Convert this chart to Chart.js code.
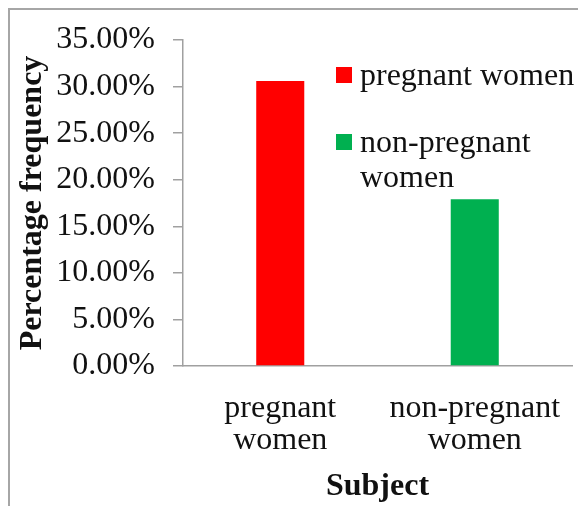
<!DOCTYPE html>
<html><head><meta charset="utf-8">
<script src="https://cdn.jsdelivr.net/npm/chart.js@4"></script>
<style>html,body{margin:0;padding:0;background:#fff}#wrap{width:578px;height:506px;position:relative}</style>
</head><body><div id="wrap"><canvas id="c"></canvas></div>
<script>
const categories = [['pregnant','women'], ['non-pregnant','women']];
const seriesNames = ['pregnant women', 'non-pregnant women'];
const values = [0.306, 0.179];
const barColors = ['#ff0000', '#00b050'];
const yMin = 0, yMax = 0.35, yStep = 0.05;
const yTitle = 'Percentage frequency';
const xTitle = 'Subject';

const SERIF = '"Liberation Serif","Times New Roman",serif';
const AXIS = '#a0a0a0';
const FS = 32;

const framePlugin = {
  id: 'frame',
  beforeDraw(chart) {
    const ctx = chart.ctx;
    ctx.save();
    ctx.fillStyle = '#fff';
    ctx.fillRect(0, 0, chart.width, chart.height);
    ctx.strokeStyle = '#a6a6a6';
    ctx.lineWidth = 2;
    ctx.strokeRect(9, 9, chart.width + 20, chart.height + 20);
    ctx.restore();
  }
};

function wrapText(ctx, text, maxW) {
  const words = text.split(' ');
  const lines = [];
  let cur = '';
  words.forEach(w => {
    const t = cur ? cur + ' ' + w : w;
    if (cur && ctx.measureText(t).width > maxW) { lines.push(cur); cur = w; }
    else cur = t;
  });
  if (cur) lines.push(cur);
  return lines;
}

const legendPlugin = {
  id: 'sideLegend',
  afterDraw(chart, args, o) {
    const ctx = chart.ctx;
    ctx.save();
    ctx.font = FS + 'px ' + SERIF;
    ctx.textBaseline = 'alphabetic';
    ctx.textAlign = 'left';
    let y = o.top;
    seriesNames.forEach((name, i) => {
      const lines = wrapText(ctx, name, o.maxWidth);
      ctx.fillStyle = barColors[i];
      ctx.fillRect(o.x, y - 18, 16, 16);
      ctx.fillStyle = '#111';
      lines.forEach((ln, j) => ctx.fillText(ln, o.x + 24, y + j * o.lineH));
      y += lines.length * o.lineH + o.gap;
    });
    ctx.restore();
  }
};

new Chart(document.getElementById('c'), {
  type: 'bar',
  data: {
    labels: categories,
    datasets: [{
      label: 'Percentage frequency',
      data: values,
      backgroundColor: barColors,
      borderWidth: 0,
      categoryPercentage: 1,
      barPercentage: 0.247
    }]
  },
  options: {
    responsive: true,
    maintainAspectRatio: false,
    animation: false,
    layout: { padding: { left: 0, right: 6, top: 40, bottom: 0 } },
    plugins: {
      legend: { display: false },
      tooltip: { enabled: false },
      sideLegend: { x: 336, top: 85, lineH: 35, gap: 32, maxWidth: 216 }
    },
    scales: {
      x: {
        grid: { display: true, drawOnChartArea: false, drawTicks: true, tickLength: 26, color: 'rgba(0,0,0,0)' },
        border: { display: true, color: AXIS, width: 1.5 },
        ticks: { color: '#111', font: { family: SERIF, size: FS, lineHeight: 1.02 }, padding: 0, maxRotation: 0, autoSkip: false },
        title: { display: true, text: xTitle, color: '#111', font: { family: SERIF, size: FS, weight: 'bold', lineHeight: 1.2 }, padding: { top: 0, bottom: 0 } },
        afterFit(s) { s.height = 140; }
      },
      y: {
        min: yMin, max: yMax,
        grid: { drawOnChartArea: false, drawTicks: true, tickLength: 10, color: AXIS, lineWidth: 1.5 },
        border: { display: true, color: AXIS, width: 1.5 },
        ticks: { stepSize: yStep, color: '#111', font: { family: SERIF, size: FS }, padding: 18,
          callback: v => (v * 100).toFixed(2) + '%' },
        title: { display: true, text: yTitle, color: '#111', font: { family: SERIF, size: FS, weight: 'bold', lineHeight: 1.2 }, padding: { top: 14, bottom: 0 } },
        afterFit(s) { s.width = 183; }
      }
    }
  },
  plugins: [framePlugin, legendPlugin]
});
</script></body></html>
